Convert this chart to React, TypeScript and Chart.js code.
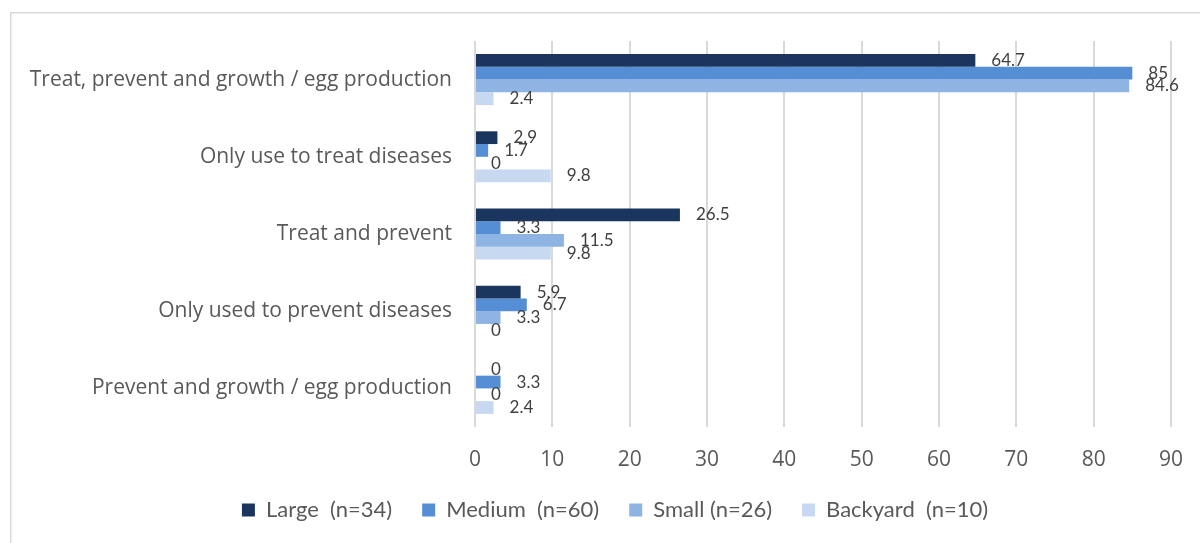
import { useEffect, useRef } from 'react';
import { Chart, registerables } from 'chart.js';

Chart.register(...registerables);

const categories = [
  'Treat, prevent and growth / egg production',
  'Only use to treat diseases',
  'Treat and prevent',
  'Only used to prevent diseases',
  'Prevent and growth / egg production',
];
const seriesLabels = ['Large  (n=34)', 'Medium  (n=60)', 'Small (n=26)', 'Backyard  (n=10)'];
const largeValues = [64.7, 2.9, 26.5, 5.9, 0];
const mediumValues = [85, 1.7, 3.3, 6.7, 3.3];
const smallValues = [84.6, 0, 11.5, 3.3, 0];
const backyardValues = [2.4, 9.8, 9.8, 0, 2.4];
const seriesColors = ['#1B365E', '#558ED5', '#8EB4E3', '#C6D9F1'];
const xMin = 0;
const xMax = 90;
const xStep = 10;

export default function App() {
  const ref = useRef<HTMLCanvasElement>(null);

  useEffect(() => {
    const canvas = ref.current;
    if (!canvas) return;

    const framePlugin = {
      id: 'frame',
      beforeDraw(chart: any) {
        const { ctx, width, height } = chart;
        ctx.save();
        ctx.fillStyle = '#ffffff';
        ctx.fillRect(0, 0, width, height);
        ctx.strokeStyle = '#d9d9d9';
        ctx.lineWidth = 1.5;
        ctx.strokeRect(0.75, 0.75, width - 1.5, height - 1.5);
        ctx.restore();
      },
    };

    // let long category labels extend left of the axis box without being clipped
    const unclipPlugin = {
      id: 'unclipY',
      afterLayout(chart: any) {
        const s = chart.scales.y;
        if (s) s.left = 0;
      },
    };

    const labelPlugin = {
      id: 'barLabels',
      afterDatasetsDraw(chart: any) {
        const ctx = chart.ctx;
        ctx.save();
        ctx.font = '17px Lato';
        ctx.fillStyle = '#404040';
        ctx.textAlign = 'left';
        ctx.textBaseline = 'middle';
        chart.data.datasets.forEach((ds: any, i: number) => {
          const meta = chart.getDatasetMeta(i);
          meta.data.forEach((bar: any, j: number) => {
            ctx.fillText(String(ds.data[j]), bar.x + 16, bar.y);
          });
        });
        ctx.restore();
      },
    };

    const valueSets = [largeValues, mediumValues, smallValues, backyardValues];

    const chart = new Chart(canvas, {
      type: 'bar',
      data: {
        labels: categories,
        datasets: valueSets.map((vals, i) => ({
          label: seriesLabels[i],
          data: vals,
          backgroundColor: seriesColors[i],
          borderWidth: 0,
          categoryPercentage: 0.66,
          barPercentage: 1,
        })),
      },
      options: {
        indexAxis: 'y',
        responsive: false,
        animation: false,
        devicePixelRatio: 1,
        layout: { padding: { top: 29, left: 49, right: 49, bottom: 21 } },
        scales: {
          x: {
            min: xMin,
            max: xMax,
            ticks: {
              stepSize: xStep,
              padding: 20,
              color: '#595959',
              font: { family: 'Open Sans', size: 21 },
            },
            grid: { color: '#d9d9d9', lineWidth: 2, drawTicks: false },
            border: { display: false },
            afterFit: (s: any) => {
              s.height = 42;
            },
          },
          y: {
            grid: { display: false, drawTicks: false },
            border: { display: false },
            ticks: {
              padding: 23,
              color: '#595959',
              font: { family: 'Open Sans', size: 21 },
            },
            afterFit: (s: any) => {
              s.width = 416;
              s.paddingTop = 0;
              s.paddingBottom = 0;
            },
          },
        },
        plugins: {
          legend: {
            position: 'bottom',
            labels: {
              boxWidth: 13,
              boxHeight: 13,
              padding: 30,
              color: '#595959',
              font: { family: 'Lato', size: 22 },
            },
          },
          tooltip: { enabled: false },
        },
      } as any,
      plugins: [framePlugin, unclipPlugin, labelPlugin],
    });

    return () => chart.destroy();
  }, []);

  return (
    <div
      style={{
        position: 'fixed',
        left: 0,
        top: 0,
        width: 1200,
        height: 543,
        overflow: 'hidden',
        background: '#ffffff',
      }}
    >
      <canvas
        ref={ref}
        width={1210}
        height={540}
        style={{ position: 'absolute', left: 10, top: 12, width: 1210, height: 540 }}
      />
    </div>
  );
}
